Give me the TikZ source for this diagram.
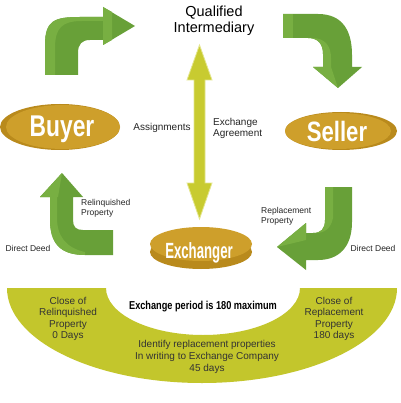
\documentclass[tikz,border=0pt]{standalone}
\usepackage{fontspec}
\setmainfont{Liberation Sans}
\definecolor{gdark}{HTML}{68A038}
\definecolor{glight}{HTML}{78AF42}
\definecolor{gold}{HTML}{CE9F2B}
\definecolor{golddark}{HTML}{B98A1C}
\definecolor{olive}{HTML}{C3C62C}
\definecolor{oliveA}{HTML}{C8CB30}
\definecolor{oliveE}{HTML}{E4E68C}
\tikzset{
  lbl/.style={inner sep=0pt, align=left, font=\fontsize{8.5}{10}\selectfont, text=black!85},
  mid/.style={inner sep=0pt, align=center, font=\fontsize{10}{11.6}\selectfont, text=black!80},
  big/.style={inner sep=0pt, align=center, font=\fontsize{14.5}{16}\selectfont, text=black},
  oval/.style={inner sep=0pt, text=white, anchor=base},
}
\begin{document}
\begin{tikzpicture}[x=1pt,y=-1pt]
\useasboundingbox (0,0) rectangle (400,403);
\fill[white] (0,0) rectangle (400,403);

% bottom band
\fill[olive] (7,288) arc[start angle=180, end angle=360, x radius=195pt, y radius=95pt]
  -- (300,288) arc[start angle=0, end angle=-180, x radius=97pt, y radius=47pt] -- cycle;

% top-left green arrow
\fill[gdark] (45,75) -- (45,45) .. controls (45,20) and (55,17) .. (80,17) -- (103,17) -- (103,7) -- (135,26) -- (103,45) -- (103,40) -- (90,40) .. controls (82,40) and (78,44) .. (78,53) -- (78,75) -- cycle;
\fill[glight] (45,75) -- (45,45) .. controls (45,20) and (55,17) .. (80,17) -- (103,17) -- (103,21) -- (82,21) .. controls (62,21) and (55,28) .. (55,48) -- (55,75) -- cycle;
\fill[glight] (103,7) -- (112,12) -- (112,40) -- (103,45) -- cycle;

% top-right green arrow
\fill[gdark] (283,14) -- (318,14) .. controls (342,14) and (352,30) .. (352,55) -- (352,67) -- (362,67) -- (338,88) -- (313,67) -- (323,67) -- (323,54) .. controls (323,44) and (318,38) .. (308,38) -- (283,38) -- cycle;
\fill[glight] (283,14) rectangle (293,38);
\fill[glight] (323,67) -- (323,54) .. controls (323,44) and (318,38) .. (308,38) -- (312,38) .. controls (325,38) and (331,46) .. (331,58) -- (331,67) -- cycle;
\fill[glight] (313,67) -- (331,67) -- (338,88) -- cycle;

% bottom-right green arrow
\fill[gdark] (325,187) -- (352,187) -- (352,222) .. controls (352,248) and (338,260) .. (318,260) -- (306,260) -- (306,270) -- (277,247) -- (306,223) -- (306,233) -- (313,233) .. controls (321,233) and (325,229) .. (325,220) -- cycle;
\fill[glight] (325,187) -- (333,187) -- (333,218) .. controls (331,228) and (325,233) .. (316,233) -- (313,233) .. controls (321,233) and (325,229) .. (325,220) -- cycle;
\fill[glight] (306,223) -- (277,247) -- (306,240) -- cycle;

% bottom-left green arrow
\fill[gdark] (113,230) -- (113,255) -- (85,255) .. controls (60,255) and (50,243) .. (50,220) -- (50,197) -- (40,197) -- (62,173) -- (83,197) -- (73,197) -- (73,220) .. controls (73,227) and (76,230) .. (83,230) -- cycle;
\fill[glight] (50,197) -- (57,197) -- (57,218) .. controls (57,236) and (66,248) .. (85,252) -- (85,255) .. controls (60,255) and (50,243) .. (50,220) -- cycle;
\fill[glight] (40,197) -- (62,173) -- (58,197) -- cycle;

% ovals
\fill[golddark] (60,127) ellipse [x radius=60pt, y radius=23pt];
\fill[gold] (63,127) ellipse [x radius=57pt, y radius=22pt];
\fill[golddark] (341,131) ellipse [x radius=56pt, y radius=19pt];
\fill[gold] (338,131) ellipse [x radius=53pt, y radius=18pt];
\fill[golddark] (201,252) ellipse [x radius=51pt, y radius=17pt];
\fill[gold] (201,244) ellipse [x radius=51pt, y radius=17pt];

\node[oval] (buyer) at (62,137) {\scalebox{0.76}[1]{\fontsize{30}{30}\selectfont\bfseries Buyer}};
\node[oval] (seller) at (337,142) {\scalebox{0.79}[1]{\fontsize{28}{28}\selectfont\bfseries Seller}};
\node[oval] (exch) at (199,258) {\scalebox{0.6}[1]{\fontsize{22}{22}\selectfont\bfseries Exchanger}};

% qualified intermediary
\node[big] (qi) at (214,21) {Qualified\\Intermediary};

% double arrow
\coordinate (ta) at (199.5,45);
\coordinate (tb) at (199.5,219);
\fill[oliveA, draw=oliveE, line width=0.8pt] (ta) -- (212,80) -- (205,80) -- (205,183) -- (212,183) -- (tb) -- (187,183) -- (194,183) -- (194,80) -- (187,80) -- cycle;

% labels
\node[inner sep=0pt, font=\fontsize{10}{11}\selectfont, text=black!85] (assign) at (162,128) {Assignments};
\node[inner sep=0pt, align=left, anchor=west, font=\fontsize{10}{11}\selectfont, text=black!85] (exagr) at (213,128) {Exchange\\Agreement};
\node[lbl, anchor=west] (relprop) at (81,208) {Relinquished\\Property};
\node[lbl] (ddl) at (28,248) {Direct Deed};
\node[lbl, anchor=west] (repprop) at (261,216) {Replacement\\Property};
\node[lbl] (ddr) at (373,248) {Direct Deed};

% band texts
\node[mid] (crel) at (68,319) {Close of\\Relinquished\\Property\\0 Days};
\node[mid] (crep) at (334,319) {Close of\\Replacement\\Property\\180 days};
\node[mid] (ident) at (207,357) {Identify replacement properties\\In writing to Exchange Company\\45 days};
\node[inner sep=0pt, text=black] (period) at (203,307) {\scalebox{0.92}[1.15]{\fontsize{10}{10}\selectfont\bfseries Exchange period is 180 maximum}};
\end{tikzpicture}
\end{document}
